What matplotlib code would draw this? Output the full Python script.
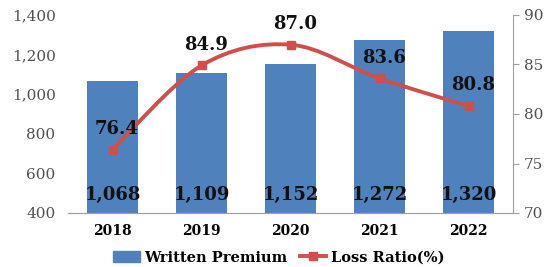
import numpy as np
import matplotlib
matplotlib.use("Agg")
import matplotlib.pyplot as plt
from matplotlib.path import Path
from matplotlib.patches import PathPatch
from matplotlib.lines import Line2D
from matplotlib.patches import Patch

# --- data ---
years = ["2018", "2019", "2020", "2021", "2022"]
premium = [1068, 1109, 1152, 1272, 1320]
loss_ratio = [76.4, 84.9, 87.0, 83.6, 80.8]

BAR_COLOR = "#4F81BD"
LINE_COLOR = "#CF4F4C"
TICK_COLOR = "#505050"

plt.rcParams["font.family"] = ["DejaVu Serif"]

fig = plt.figure(figsize=(5.51, 2.67), dpi=100)
ax = fig.add_axes([68 / 551, 54 / 267, 445 / 551, 198 / 267])
ax2 = ax.twinx()

x = np.arange(len(years))
ax.bar(x, premium, width=0.57, color=BAR_COLOR, zorder=2)
ax.set_xlim(-0.5, len(years) - 0.5)
ax.set_ylim(400, 1400)
ax.set_yticks(range(400, 1401, 200))
ax.set_yticklabels([f"{v:,}" for v in range(400, 1401, 200)])
ax.set_xticks(x)
ax.set_xticklabels(years, fontweight="bold", fontsize=10)

for xi, v in zip(x, premium):
    ax.annotate(f"{v:,}", (xi, 400), xytext=(0, 13), textcoords="offset points",
                ha="center", va="center", fontsize=13, fontweight="bold", color="#111111")

# smoothed line (Catmull-Rom style bezier through the points)
pts = np.column_stack([x, loss_ratio]).astype(float)
verts = [tuple(pts[0])]
codes = [Path.MOVETO]
t = 1 / 6
for i in range(len(pts) - 1):
    p0 = pts[i - 1] if i > 0 else pts[i]
    p1, p2 = pts[i], pts[i + 1]
    p3 = pts[i + 2] if i + 2 < len(pts) else pts[i + 1]
    c1 = p1 + (p2 - p0) * t
    c2 = p2 - (p3 - p1) * t
    verts += [tuple(c1), tuple(c2), tuple(p2)]
    codes += [Path.CURVE4] * 3
ax2.add_patch(PathPatch(Path(verts, codes), facecolor="none", edgecolor=LINE_COLOR,
                        lw=2.8, zorder=3))
ax2.plot(x, loss_ratio, ls="none", marker="s", ms=6, color=LINE_COLOR, zorder=4)
ax2.set_ylim(70, 90)
ax2.set_yticks(range(70, 91, 5))

for xi, v in zip(x, loss_ratio):
    ax2.annotate(f"{v:.1f}", (xi, v), xytext=(3, 15), textcoords="offset points",
                 ha="center", va="center", fontsize=13, fontweight="bold", color="#111111")

for a in (ax, ax2):
    for s in ("top", "left", "right"):
        a.spines[s].set_visible(False)
    a.spines["bottom"].set_color("#A0A0A0")
ax2.spines["right"].set_visible(True)
ax2.spines["right"].set_color("#A0A0A0")
ax.tick_params(axis="y", length=0, labelsize=11, labelcolor=TICK_COLOR, pad=9)
ax.tick_params(axis="x", length=0, pad=8)
ax2.tick_params(axis="y", length=4, color="#A0A0A0", labelsize=11, labelcolor=TICK_COLOR, pad=4)

handles = [Patch(color=BAR_COLOR),
           Line2D([], [], color=LINE_COLOR, lw=2.8, marker="s", ms=6)]
fig.legend(handles, ["Written Premium", "Loss Ratio(%)"], loc="lower center",
           bbox_to_anchor=(0.506, -0.04), ncol=2, frameon=False,
           prop={"weight": "bold", "size": 10.5}, handlelength=1.8, columnspacing=0.9,
           handletextpad=0.3)

fig.savefig("out.png", dpi=100)
